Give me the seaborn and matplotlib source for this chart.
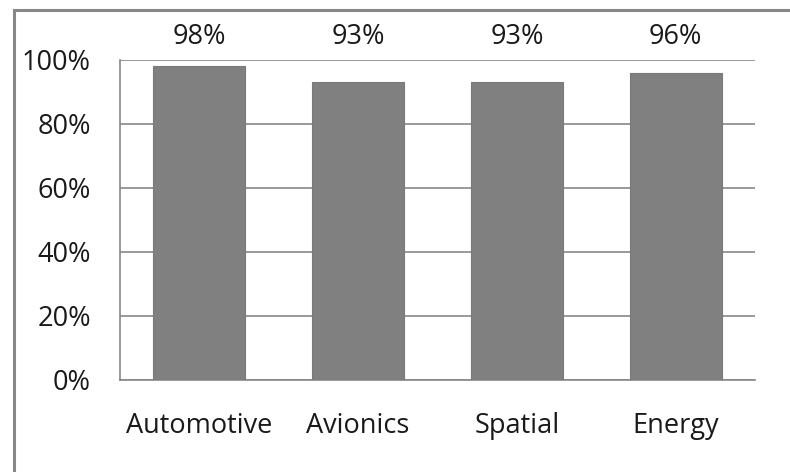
import matplotlib.pyplot as plt
import matplotlib.patches as mpatches
import pandas as pd
import seaborn as sns

sns.set_theme(style="white")
plt.rcParams["font.family"] = ["Open Sans", "DejaVu Sans"]

categories = ["Automotive", "Avionics", "Spatial", "Energy"]
values = [98, 93, 93, 96]
y_ticks = [0, 20, 40, 60, 80, 100]

W, H = 790, 472
fig = plt.figure(figsize=(W / 100, H / 100), dpi=100)
# plot area in pixels: x 120..755, y 60..380
ax = fig.add_axes([120 / W, 1 - 380 / H, (755 - 120) / W, (380 - 60) / H])

df = pd.DataFrame({"category": categories, "value": values})
sns.barplot(data=df, x="category", y="value", color="#808080", saturation=1,
            width=0.58, edgecolor="#7a7a7a", linewidth=0.8, ax=ax, zorder=3)

ax.set_ylim(0, 100)
ax.set_yticks(y_ticks)
ax.set_yticklabels([f"{t}%" for t in y_ticks])
ax.yaxis.grid(True, color="#878787", linewidth=1.2, zorder=0)
ax.set_axisbelow(True)
ax.set_xlabel("")
ax.set_ylabel("")
ax.tick_params(axis="y", length=0, pad=21, labelsize=19.5, labelcolor="#1a1a1a")
ax.tick_params(axis="x", length=0, pad=23, labelsize=19.5, labelcolor="#1a1a1a")

for side in ["top", "right"]:
    ax.spines[side].set_visible(False)
for side in ["left", "bottom"]:
    ax.spines[side].set_color("#878787")
    ax.spines[side].set_linewidth(1.2)

for i, v in enumerate(values):
    ax.text(i, 107.2, f"{v}%", ha="center", va="center", fontsize=19.5,
            color="#1a1a1a", clip_on=False)

# chart border (only left and top visible in the frame)
fig.patches.append(mpatches.Rectangle((14 / W, -0.1), 1.2, 1 - 10 / H + 0.1,
                                      transform=fig.transFigure, fill=False,
                                      edgecolor="#878787", linewidth=2.2))

fig.savefig("out.png", dpi=100, facecolor="white")
